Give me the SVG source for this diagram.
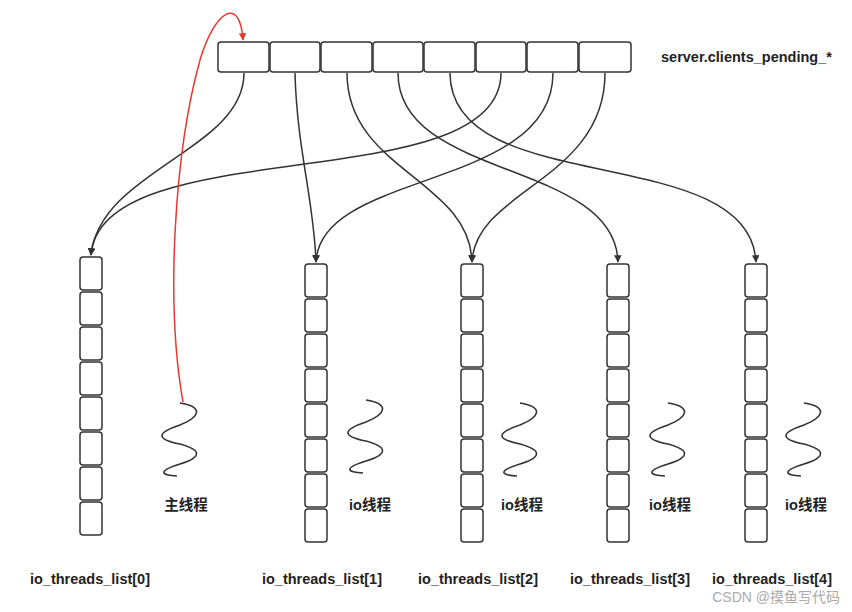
<svg xmlns="http://www.w3.org/2000/svg" width="852" height="612" viewBox="0 0 852 612">
<style>
.c{fill:#fff;stroke:#333;stroke-width:1.5}
.e{fill:none;stroke:#333;stroke-width:1.5}
.w{fill:none;stroke:#333;stroke-width:1.6}
.t{font-family:"Liberation Sans","Noto Sans CJK SC",sans-serif;font-size:14.5px;font-weight:bold;fill:#222}
</style>
<defs>
<marker id="a" viewBox="0 0 10 10" refX="9" refY="5" markerWidth="5" markerHeight="5" orient="auto"><path d="M0,0L10,5L0,10z" fill="#333"/></marker>
<marker id="r" viewBox="0 0 10 10" refX="9" refY="5" markerWidth="5" markerHeight="5" orient="auto"><path d="M0,0L10,5L0,10z" fill="#e8392e"/></marker>
<g id="col">
<rect class="c" x="0" y="0" width="22" height="33" rx="3"/><rect class="c" x="0" y="35" width="22" height="33" rx="3"/><rect class="c" x="0" y="70" width="22" height="33" rx="3"/><rect class="c" x="0" y="105" width="22" height="33" rx="3"/><rect class="c" x="0" y="140" width="22" height="33" rx="3"/><rect class="c" x="0" y="175" width="22" height="33" rx="3"/><rect class="c" x="0" y="210" width="22" height="33" rx="3"/><rect class="c" x="0" y="245" width="22" height="33" rx="3"/>
</g>
<path id="wave" class="w" d="M0,0 C24,4 20,14 0,22 C-24,30 -24,36 0,41 C22,47 22,54 0,61 C-22,68 -20,72 -3,73"/>
</defs>
<g id="pending">
<rect class="c" x="218" y="42" width="51" height="30" rx="3"/><rect class="c" x="270" y="42" width="50" height="30" rx="3"/><rect class="c" x="321" y="42" width="51" height="30" rx="3"/><rect class="c" x="373" y="42" width="50" height="30" rx="3"/><rect class="c" x="424" y="42" width="51" height="30" rx="3"/><rect class="c" x="476" y="42" width="50" height="30" rx="3"/><rect class="c" x="527" y="42" width="51" height="30" rx="3"/><rect class="c" x="579" y="42" width="52" height="30" rx="3"/>
<text class="t" x="661" y="62">server.clients_pending_*</text>
</g>
<g id="list0"><use href="#col" x="80" y="257"/><text class="t" x="90" y="584" text-anchor="middle">io_threads_list[0]</text></g>
<g id="list1"><use href="#col" x="305" y="264"/><text class="t" x="322" y="584" text-anchor="middle">io_threads_list[1]</text></g>
<g id="list2"><use href="#col" x="461" y="264"/><text class="t" x="478" y="584" text-anchor="middle">io_threads_list[2]</text></g>
<g id="list3"><use href="#col" x="607" y="264"/><text class="t" x="630" y="584" text-anchor="middle">io_threads_list[3]</text></g>
<g id="list4"><use href="#col" x="745" y="264"/><text class="t" x="772" y="584" text-anchor="middle">io_threads_list[4]</text></g>
<g id="main"><use href="#wave" x="180" y="403"/><text class="t" x="186" y="510" text-anchor="middle">主线程</text></g>
<g id="t1"><use href="#wave" x="366" y="400"/><text class="t" x="370" y="510" text-anchor="middle">io线程</text></g>
<g id="t2"><use href="#wave" x="520" y="403"/><text class="t" x="522" y="510" text-anchor="middle">io线程</text></g>
<g id="t3"><use href="#wave" x="668" y="403"/><text class="t" x="670" y="510" text-anchor="middle">io线程</text></g>
<g id="t4"><use href="#wave" x="804" y="403"/><text class="t" x="806" y="510" text-anchor="middle">io线程</text></g>
<g id="connectors">
<path class="e" marker-end="url(#a)" d="M244,73 C244,150 100,170 91,255"/>
<path class="e" marker-end="url(#a)" d="M295,73 C297,150 314,200 316,262"/>
<path class="e" marker-end="url(#a)" d="M347,73 C347,170 470,180 472,262"/>
<path class="e" marker-end="url(#a)" d="M398,73 C398,180 615,160 618,262"/>
<path class="e" marker-end="url(#a)" d="M450,73 C450,200 750,140 756,262"/>
<path class="e" marker-end="url(#a)" d="M501,73 C501,200 100,130 91,255"/>
<path class="e" marker-end="url(#a)" d="M553,73 C553,190 320,170 316,262"/>
<path class="e" marker-end="url(#a)" d="M605,73 C605,180 475,190 472,262"/>
<path fill="none" stroke="#e8392e" stroke-width="1.5" marker-end="url(#r)" d="M183,402 C165,300 175,150 200,60 C215,10 240,-5 243,40"/>
</g>
<text x="840" y="602" text-anchor="end" font-family="Liberation Sans,Noto Sans CJK SC,sans-serif" font-size="14" fill="#aaa">CSDN @摸鱼写代码</text>
</svg>
